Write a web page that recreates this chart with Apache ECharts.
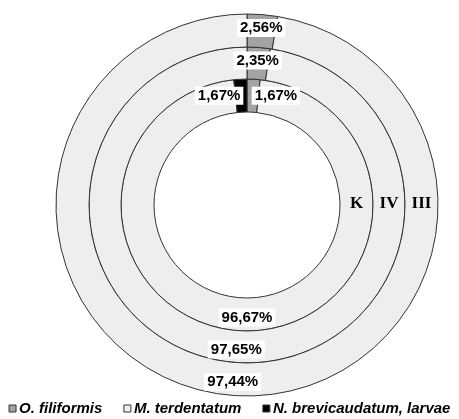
<!DOCTYPE html>
<html>
<head>
<meta charset="utf-8">
<script src="https://cdn.jsdelivr.net/npm/echarts@6/dist/echarts.min.js"></script>
<style>
  html, body { margin: 0; padding: 0; background: #fff; }
  #chart { width: 459px; height: 419px; }
</style>
</head>
<body>
<div id="chart"></div>
<script>
// species (legend order) and their colours
var species = ['O. filiformis', 'M. terdentatum', 'N. brevicaudatum, larvae'];
var speciesColors = ['#a3a3a3', '#eeeeee', '#000000'];

// rings, from inside out
var rings = ['K', 'IV', 'III'];
var valuesK = [1.67, 96.67, 1.67];
var valuesIV = [2.35, 97.65];
var valuesIII = [2.56, 97.44];

var center = [247, 205];
var radii = [[93, 126], [126, 158], [158, 191]];

function fmt(v) {
	return v.toFixed(2).replace('.', ',') + '%';
}

function buildData(values) {
	return values.map(function (v, i) {
		return { name: species[i], value: v, itemStyle: { color: speciesColors[i] } };
	});
}

var allValues = [valuesK, valuesIV, valuesIII];

var series = allValues.map(function (vals, s) {
	var item = {
		name: rings[s],
		type: 'pie',
		center: center,
		radius: radii[s],
		startAngle: 90,
		clockwise: true,
		silent: true,
		itemStyle: { borderColor: '#333', borderWidth: 1 },
		emphasis: { disabled: true },
		label: {
			show: true,
			position: 'inside',
			formatter: function (p) { return fmt(p.value); },
			backgroundColor: '#fff',
			padding: [2, 3, 1, 3],
			color: '#000',
			fontFamily: 'Liberation Sans, Arial, sans-serif',
			fontWeight: 'bold',
			fontSize: 15
		},
		labelLine: { show: false },
		data: buildData(vals)
	};
	if (s === 0) {
		// K ring: move the two small labels apart
		item.labelLayout = function (params) {
			if (params.dataIndex === 0) {
				return { dx: 23, dy: 3 };
			}
			if (params.dataIndex === 2) {
				return { dx: -22, dy: 3 };
			}
			return {};
		};
	}
	return item;
});

// ring names on the right side
var ringTexts = rings.map(function (r, s) {
	return {
		type: 'text',
		x: center[0] + (radii[s][0] + radii[s][1]) / 2,
		y: center[1] - 1,
		style: {
			text: r,
			fill: '#000',
			font: 'bold 17px "Liberation Serif", "Times New Roman", serif',
			align: 'center',
			verticalAlign: 'middle'
		},
		z: 10
	};
});

var myChart = echarts.init(document.getElementById('chart'));
var option = {
	animation: false,
	backgroundColor: '#fff',
	legend: {
		bottom: 3,
		left: 'center',
		width: 459,
		padding: 0,
		icon: 'rect',
		itemWidth: 7,
		itemHeight: 7,
		itemGap: 21,
		itemStyle: { borderColor: '#333', borderWidth: 1 },
		selectedMode: false,
		textStyle: {
			fontFamily: 'Liberation Sans, Arial, sans-serif',
			fontStyle: 'italic',
			fontWeight: 'bold',
			fontSize: 15,
			color: '#000',
			padding: [0, 0, 0, -2]
		},
		data: species
	},
	graphic: ringTexts,
	series: series
};
myChart.setOption(option);
</script>
</body>
</html>
